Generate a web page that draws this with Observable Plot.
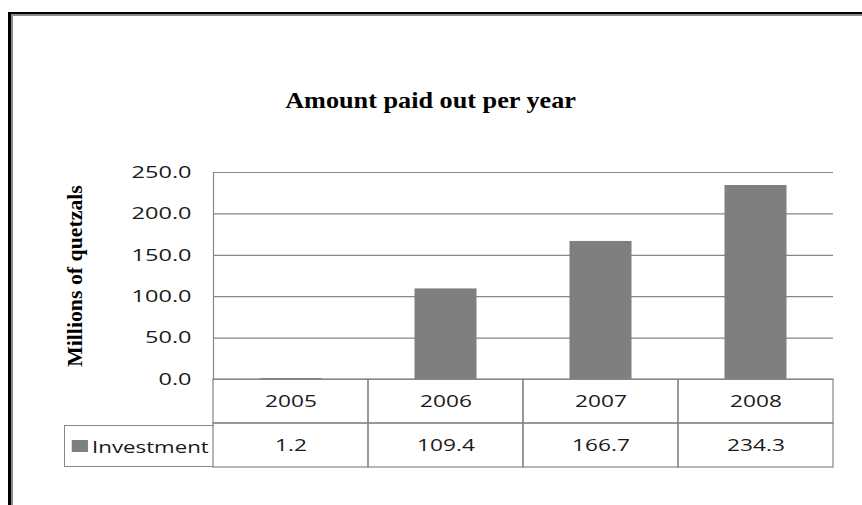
<!DOCTYPE html>
<html>
<head>
<meta charset="utf-8">
<script src="https://cdn.jsdelivr.net/npm/d3@7"></script>
<script src="https://cdn.jsdelivr.net/npm/@observablehq/plot@0.6"></script>
<style>
html,body{margin:0;padding:0;background:#fff;overflow:hidden;width:862px;height:505px;}
#page{position:relative;width:862px;height:505px;overflow:hidden;background:#fff;}
#frame{position:absolute;left:8px;top:12px;width:900px;height:600px;border-left:3px solid #000;border-top:2px solid #000;}
#frame2{position:absolute;left:0;top:0;right:0;bottom:0;border-left:2px solid #8c8c8c;border-top:2px solid #8c8c8c;}
#title{position:absolute;left:0;top:88px;width:862px;text-align:center;line-height:1;}
#title span{display:inline-block;font:bold 23px "Liberation Serif",serif;transform:scaleX(1.14);color:#000;}
#chart{position:absolute;left:0;top:0;}
#table{position:absolute;left:0;top:378px;}
#legendcell{position:absolute;left:64px;top:425px;width:150px;height:42px;box-sizing:border-box;border:1px solid #868686;border-right:none;display:flex;align-items:center;}
#legendinner{transform:scaleX(1.35);transform-origin:left center;padding-left:5px;}
#legendinner svg{margin-right:3px !important;}
#legendinner div{min-height:0 !important;margin:0 !important;}
</style>
</head>
<body>
<div id="page">
  <div id="frame"><div id="frame2"></div></div>
  <div id="title"><span></span></div>
  <div id="chart"></div>
  <div id="table"></div>
  <div id="legendcell"><div id="legendinner"></div></div>
</div>
<script>
// ---- data ----
const years = ["2005", "2006", "2007", "2008"];
const investment = [1.2, 109.4, 166.7, 234.3];
const yTicks = [0, 50, 100, 150, 200, 250];
const seriesName = "Investment";
const titleText = "Amount paid out per year";
const yLabel = "Millions of quetzals";
const tableRows = ["year", "value"];

const barColor = "#7f7f7f";
const lineColor = "#868686";
const textColor = "#1a1a1a";
const sansFont = "'Open Sans', 'Liberation Sans', sans-serif";

const data = years.map((y, i) => ({year: y, value: investment[i]}));
const cells = years.flatMap((y, i) => [
  {year: y, row: "year", text: y},
  {year: y, row: "value", text: investment[i].toFixed(1)}
]);

const W = 862, ML = 213, MR = 29;

document.querySelector("#title span").textContent = titleText;

const chart = Plot.plot({
  width: W, height: 381,
  marginLeft: ML, marginRight: MR, marginTop: 172, marginBottom: 2,
  style: {background: "transparent", overflow: "visible"},
  x: {type: "band", domain: years, padding: 0, axis: null},
  y: {domain: [0, 250], axis: null},
  marks: [
    Plot.ruleY(yTicks.filter(d => d > 0), {stroke: lineColor, strokeWidth: 1.2}),
    Plot.barY(data, {x: "year", y: "value", fill: barColor, insetLeft: 46.5, insetRight: 46.5}),
    Plot.ruleY([0], {stroke: lineColor, strokeWidth: 1.2}),
    Plot.frame({anchor: "left", stroke: lineColor, strokeWidth: 1.2}),
    Plot.axisY({
      ticks: yTicks, tickSize: 0, tickPadding: 22,
      tickFormat: d => d.toFixed(1),
      fontSize: 16.8, fontFamily: sansFont, color: textColor, label: null
    }),
    Plot.text([yLabel], {
      frameAnchor: "left", textAnchor: "middle", lineAnchor: "middle", dx: -138, rotate: -90,
      fontSize: 21.8, fontWeight: "bold", fontFamily: "'Liberation Serif', serif", fill: "#000"
    })
  ]
});
document.getElementById("chart").appendChild(chart);

const table = Plot.plot({
  width: W, height: 92,
  marginLeft: ML, marginRight: MR, marginTop: 1, marginBottom: 3,
  style: {background: "transparent", overflow: "visible"},
  x: {type: "band", domain: years, padding: 0, axis: null},
  y: {type: "band", domain: tableRows, padding: 0, axis: null},
  marks: [
    Plot.cell(cells, {x: "year", y: "row", fill: "none", stroke: lineColor, strokeWidth: 1.2}),
    Plot.text(cells, {x: "year", y: "row", text: "text", fontSize: 16.8, fontFamily: sansFont, fill: textColor})
  ]
});
document.getElementById("table").appendChild(table);

// horizontal stretch of the sans text, as in the reference
function stretch(nodes, sx) {
  nodes.forEach(t => {
    const tr = t.getAttribute("transform") || "";
    t.setAttribute("transform", tr + ` scale(${sx},1)`);
  });
}
stretch(chart.querySelectorAll('g[aria-label="y-axis tick label"] text'), 1.4);
stretch(table.querySelectorAll("text"), 1.35);

const legend = Plot.legend({
  color: {type: "ordinal", domain: [seriesName], range: [barColor]},
  swatchSize: 12,
  style: {fontSize: "16.5px", fontFamily: "Open Sans", color: textColor, background: "transparent"}
});
document.getElementById("legendinner").appendChild(legend);
</script>
</body>
</html>
